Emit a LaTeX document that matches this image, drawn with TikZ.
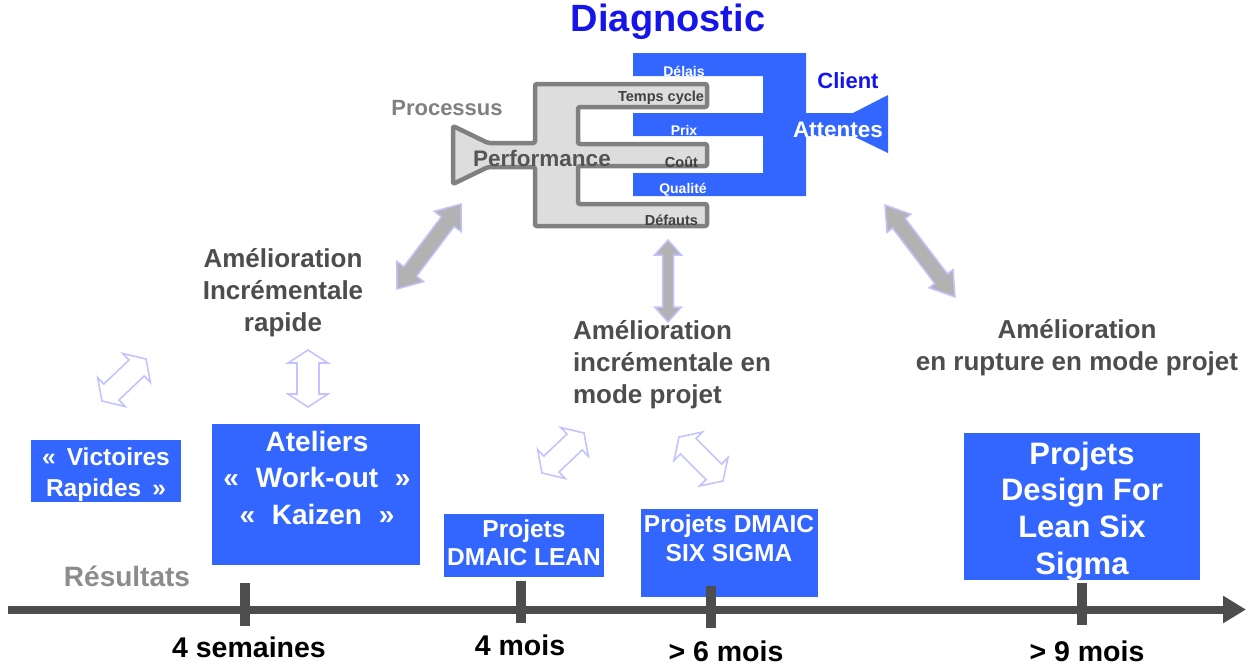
\documentclass[tikz,border=0pt]{standalone}
\usepackage{fontspec}
\setmainfont{Liberation Sans}
\usetikzlibrary{calc,arrows.meta}

\definecolor{boxblue}{RGB}{51,102,255}
\definecolor{diagblue}{RGB}{20,20,235}
\definecolor{procgray}{RGB}{128,128,128}
\definecolor{shapefill}{RGB}{221,221,221}
\definecolor{shapedraw}{RGB}{128,128,128}
\definecolor{darktxt}{RGB}{64,64,64}
\definecolor{perftxt}{RGB}{85,85,85}
\definecolor{ameltxt}{RGB}{77,77,77}
\definecolor{restxt}{RGB}{140,140,140}
\definecolor{axisgray}{RGB}{77,77,77}
\definecolor{arrowfill}{RGB}{178,178,178}
\definecolor{lav}{RGB}{195,195,255}

\newcommand{\fsz}[2]{\fontsize{#1}{#2}\selectfont}
% style, A, B, half shaft, half head, head length
\newcommand{\DArr}[6]{%
 \draw[#1] (#2)
  -- ($(#2)!#6!(#3)!#5!90:(#3)$)
  -- ($(#2)!#6!(#3)!#4!90:(#3)$)
  -- ($(#3)!#6!(#2)!#4!90:(#3)$)
  -- ($(#3)!#6!(#2)!#5!90:(#3)$)
  -- (#3)
  -- ($(#3)!#6!(#2)!#5!-90:(#3)$)
  -- ($(#3)!#6!(#2)!#4!-90:(#3)$)
  -- ($(#2)!#6!(#3)!#4!-90:(#3)$)
  -- ($(#2)!#6!(#3)!#5!-90:(#3)$)
  -- cycle;}

\tikzset{
 every node/.style={inner sep=0pt, outer sep=0pt},
 bluebox/.style={fill=boxblue, draw=none},
 boxtxt/.style={text=white, font=\bfseries, align=center, text depth=0pt},
 ameltext/.style={text=ameltxt, font=\fsz{26}{32}\bfseries, text depth=0pt},
 timetxt/.style={text=black, font=\fsz{28.5}{30}\bfseries},
 bigarrow/.style={fill=arrowfill, draw=lav, line width=1.5pt, line join=miter},
 lightarrow/.style={fill=white, draw=lav, line width=1.6pt, line join=miter},
 axisline/.style={draw=axisgray, line width=8pt, -{Triangle[length=23pt,width=26pt]}},
 tickline/.style={draw=axisgray, line width=10pt},
}

\begin{document}
\begin{tikzpicture}[x=1pt,y=-1pt]
\useasboundingbox (0,0) rectangle (1251,665);

% ---------- Client (blue comb) ----------
\fill[boxblue] (633,53) -- (806,53) -- (806,113) -- (853,113) -- (888,95) -- (888,153)
  -- (853,136) -- (806,136) -- (806,196) -- (633,196) -- (633,173) -- (763,173)
  -- (763,136) -- (633,136) -- (633,113) -- (763,113) -- (763,76) -- (633,76) -- cycle;

% ---------- Process (gray comb) ----------
\draw[fill=shapefill, draw=shapedraw, line width=4.5pt, rounded corners=2pt, line join=round]
  (453,126) -- (488,143) -- (535,143) -- (535,84) -- (707,84) -- (707,107) -- (578,107)
  -- (578,144) -- (707,144) -- (707,166) -- (578,166) -- (578,204) -- (707,204)
  -- (707,226) -- (535,226) -- (535,167) -- (488,167) -- (453,184) -- cycle;

% ---------- labels top ----------
\node[text=diagblue, font=\fsz{38}{40}\bfseries] (diag) at (668,22) {Diagnostic};
\node[text=procgray, font=\fsz{22}{24}\bfseries] (proc) at (447,108) {Processus};
\node[text=perftxt, font=\fsz{22.5}{24}\bfseries] (perf) at (542,158) {Performance};
\node[text=diagblue, font=\fsz{22}{24}\bfseries] (client) at (848,81) {Client};
\node[text=white, font=\fsz{22.5}{24}\bfseries] (att) at (838,130) {Attentes};

\node[text=white, font=\fsz{14}{16}\bfseries] (delais) at (684,71) {Délais};
\node[text=white, font=\fsz{14}{16}\bfseries] (prix) at (684,130) {Prix};
\node[text=white, font=\fsz{14}{16}\bfseries] (qual) at (683,190) {Qualité};
\node[text=darktxt, font=\fsz{14.5}{16}\bfseries, anchor=east] (tc) at (704,98) {Temps cycle};
\node[text=darktxt, font=\fsz{14.5}{16}\bfseries, anchor=east] (cout) at (698,162) {Coût};
\node[text=darktxt, font=\fsz{14.5}{16}\bfseries, anchor=east] (defa) at (698,220) {Défauts};

% ---------- Amélioration texts ----------
\node[ameltext, align=center] (amA) at (283,290) {Amélioration\\Incrémentale\\rapide};
\node[ameltext, align=left, anchor=west] (amB) at (573,361.5) {Amélioration\\incrémentale en\\mode projet};
\node[ameltext, align=center] (amC) at (1077,345) {Amélioration\\en rupture en mode projet};

% ---------- big gray arrows ----------
\coordinate (gA1) at (397,289); \coordinate (gA2) at (461,204);
\coordinate (gB1) at (668,240); \coordinate (gB2) at (668,322);
\coordinate (gC1) at (885,205); \coordinate (gC2) at (955,297);
\DArr{bigarrow}{gA1}{gA2}{8pt}{17pt}{22pt}
\DArr{bigarrow}{gB1}{gB2}{5.5pt}{13.5pt}{15pt}
\DArr{bigarrow}{gC1}{gC2}{8pt}{15pt}{23pt}

% ---------- light arrows ----------
\coordinate (lA1) at (102,401); \coordinate (lA2) at (146,359);
\coordinate (lB1) at (308,350); \coordinate (lB2) at (308,407);
\coordinate (lC1) at (542,473); \coordinate (lC2) at (584,433);
\coordinate (lD1) at (679,437); \coordinate (lD2) at (723,481);
\DArr{lightarrow}{lA1}{lA2}{11pt}{20pt}{13pt}
\DArr{lightarrow}{lB1}{lB2}{11pt}{20pt}{13pt}
\DArr{lightarrow}{lC1}{lC2}{11pt}{20pt}{13pt}
\DArr{lightarrow}{lD1}{lD2}{11pt}{20pt}{13pt}

% ---------- blue boxes ----------
\node[bluebox, minimum width=150pt, minimum height=62pt] (bVict) at (106,471) {};
\node[bluebox, minimum width=208pt, minimum height=141pt] (bAtel) at (316,494.5) {};
\node[bluebox, minimum width=160pt, minimum height=63pt] (bLean) at (524,545.5) {};
\node[bluebox, minimum width=177pt, minimum height=88pt] (bSix) at (729.5,553) {};
\node[bluebox, minimum width=236pt, minimum height=147pt] (bDfss) at (1082,506.5) {};

\node[boxtxt, font=\fsz{24.5}{31}\bfseries] (tVict) at (106,472.5) {«\hspace{0.45em}Victoires\\Rapides\hspace{0.45em}»};
\node[boxtxt, font=\fsz{28}{36.5}\bfseries] (tAtel) at (317,477.5) {Ateliers\\«\hspace{0.6em}Work-out\hspace{0.6em}»\\«\hspace{0.6em}Kaizen\hspace{0.6em}»};
\node[boxtxt, font=\fsz{24.5}{28}\bfseries] (tLean) at (524,543) {Projets\\DMAIC LEAN};
\node[boxtxt, font=\fsz{24.5}{29}\bfseries] (tSix) at (729,538.5) {Projets DMAIC\\SIX SIGMA};
\node[boxtxt, font=\fsz{31}{36.7}\bfseries] (tDfss) at (1082,508) {Projets\\Design For\\Lean Six\\Sigma};

% ---------- timeline ----------
\node[text=restxt, font=\fsz{28}{30}\bfseries] (res) at (127,576) {Résultats};
\coordinate (ax0) at (8,609.5);
\coordinate (ax1) at (1246,609.5);
\draw[axisline] (ax0) -- (ax1);
\coordinate (k1a) at (245,583); \coordinate (k1b) at (245,626);
\coordinate (k2a) at (520.5,581); \coordinate (k2b) at (520.5,623);
\coordinate (k3a) at (710.5,586); \coordinate (k3b) at (710.5,628);
\coordinate (k4a) at (1082,583); \coordinate (k4b) at (1082,625);
\draw[tickline] (k1a) -- (k1b);
\draw[tickline] (k2a) -- (k2b);
\draw[tickline] (k3a) -- (k3b);
\draw[tickline] (k4a) -- (k4b);

\node[timetxt] (l1) at (249,647) {4 semaines};
\node[timetxt] (l2) at (520,645) {4 mois};
\node[timetxt] (l3) at (726,651) {> 6 mois};
\node[timetxt] (l4) at (1087,651) {> 9 mois};
\end{tikzpicture}
\end{document}
